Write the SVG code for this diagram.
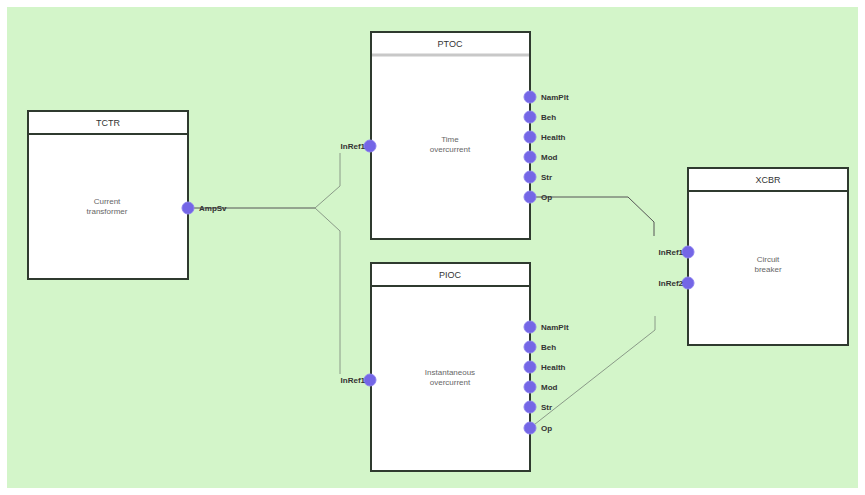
<svg xmlns="http://www.w3.org/2000/svg" width="865" height="495" viewBox="0 0 865 495">
<style>
.box{fill:#ffffff;stroke:#2f3a2f;stroke-width:2}
.sep{stroke:#2f3a2f;stroke-width:2}
.title{font-family:"Liberation Sans",Arial,sans-serif;font-size:9px;fill:#333;text-anchor:middle}
.body{font-family:"Liberation Sans",Arial,sans-serif;font-size:8px;fill:#666;text-anchor:middle}
.pl{font-family:"Liberation Sans",Arial,sans-serif;font-size:8px;font-weight:bold;fill:#333}
.pr{font-family:"Liberation Sans",Arial,sans-serif;font-size:8px;font-weight:bold;fill:#333;text-anchor:end}
.port{fill:#7466e6;stroke:#8c80f0;stroke-width:1}
.wire{fill:none;stroke:#555;stroke-width:1}
.wire2{fill:none;stroke:#8a9a88;stroke-width:1}
</style>
<rect x="0" y="0" width="865" height="495" fill="#ffffff"/>
<rect x="7" y="7" width="851" height="481" fill="#d3f5c9"/>
<g id="connectors">
<path class="wire" d="M188,208 L315,208"/>
<path class="wire2" d="M315,208 L340,186 L340,153"/>
<path class="wire2" d="M315,208 L340,231 L340,374"/>
<path class="wire" d="M530,197 L628,197 L654,222 L654,236"/>
<path class="wire2" d="M530,428 L655,330 L655,316"/>
</g>
<g id="TCTR">
<rect class="box" x="28" y="111" width="160" height="168"/>
<line class="sep" x1="28" y1="134" x2="188" y2="134"/>
<text class="title" x="108" y="126">TCTR</text>
<text class="body" x="107" y="204">Current</text>
<text class="body" x="107" y="214">transformer</text>
<circle class="port" cx="188" cy="208" r="6"/>
<text class="pl" x="199" y="211">AmpSv</text>
</g>
<g id="PTOC">
<rect class="box" x="371" y="32" width="159" height="207"/>
<line x1="372" y1="55" x2="529" y2="55" stroke="#c8c8c8" stroke-width="3"/>
<text class="title" x="450" y="47">PTOC</text>
<text class="body" x="450" y="142">Time</text>
<text class="body" x="450" y="152">overcurrent</text>
<circle class="port" cx="370" cy="146" r="6"/>
<text class="pr" x="365" y="149">InRef1</text>
<circle class="port" cx="530" cy="97" r="6"/>
<circle class="port" cx="530" cy="117" r="6"/>
<circle class="port" cx="530" cy="137" r="6"/>
<circle class="port" cx="530" cy="157" r="6"/>
<circle class="port" cx="530" cy="177" r="6"/>
<circle class="port" cx="530" cy="197" r="6"/>
<text class="pl" x="541" y="100">NamPlt</text>
<text class="pl" x="541" y="120">Beh</text>
<text class="pl" x="541" y="140">Health</text>
<text class="pl" x="541" y="160">Mod</text>
<text class="pl" x="541" y="180">Str</text>
<text class="pl" x="541" y="200">Op</text>
</g>
<g id="PIOC">
<rect class="box" x="371" y="263" width="159" height="208"/>
<line class="sep" x1="371" y1="286" x2="530" y2="286"/>
<text class="title" x="450" y="278">PIOC</text>
<text class="body" x="450" y="375">Instantaneous</text>
<text class="body" x="450" y="385">overcurrent</text>
<circle class="port" cx="370" cy="380" r="6"/>
<text class="pr" x="365" y="383">InRef1</text>
<circle class="port" cx="530" cy="327" r="6"/>
<circle class="port" cx="530" cy="347" r="6"/>
<circle class="port" cx="530" cy="367" r="6"/>
<circle class="port" cx="530" cy="387" r="6"/>
<circle class="port" cx="530" cy="407" r="6"/>
<circle class="port" cx="530" cy="428" r="6"/>
<text class="pl" x="541" y="330">NamPlt</text>
<text class="pl" x="541" y="350">Beh</text>
<text class="pl" x="541" y="370">Health</text>
<text class="pl" x="541" y="390">Mod</text>
<text class="pl" x="541" y="410">Str</text>
<text class="pl" x="541" y="431">Op</text>
</g>
<g id="XCBR">
<rect class="box" x="688" y="168" width="160" height="177"/>
<line class="sep" x1="688" y1="191" x2="848" y2="191"/>
<text class="title" x="768" y="183">XCBR</text>
<text class="body" x="768" y="262">Circuit</text>
<text class="body" x="768" y="272">breaker</text>
<circle class="port" cx="688" cy="252" r="6"/>
<text class="pr" x="683" y="255">InRef1</text>
<circle class="port" cx="688" cy="283" r="6"/>
<text class="pr" x="683" y="286">InRef2</text>
</g>
</svg>
